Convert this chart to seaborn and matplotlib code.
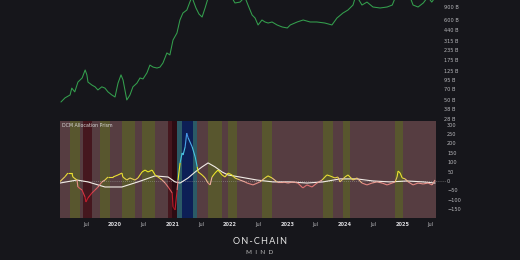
import numpy as np
import pandas as pd
import matplotlib
matplotlib.use("Agg")
import matplotlib.pyplot as plt
import matplotlib.dates as mdates
from matplotlib.collections import LineCollection
from matplotlib.colors import LinearSegmentedColormap, Normalize
import matplotlib.transforms as mtransforms
import seaborn as sns

# ---------------- data ----------------
price_dates = [
    "2019-01-22", "2019-02-17", "2019-03-21", "2019-04-01", "2019-04-20", "2019-05-10",
    "2019-06-06", "2019-06-25", "2019-07-06", "2019-07-13", "2019-08-08", "2019-08-27",
    "2019-09-14", "2019-10-09", "2019-10-29", "2019-11-17", "2019-12-12", "2020-01-01",
    "2020-01-20", "2020-02-08", "2020-02-21", "2020-03-04", "2020-03-16", "2020-04-05",
    "2020-04-24", "2020-05-19", "2020-06-08", "2020-06-27", "2020-07-22", "2020-08-10",
    "2020-08-30", "2020-09-24", "2020-10-13", "2020-11-01", "2020-11-26", "2020-12-15",
    "2021-01-04", "2021-01-29", "2021-02-17", "2021-03-08", "2021-04-02", "2021-04-21",
    "2021-05-04", "2021-05-30", "2021-06-18", "2021-07-08", "2021-07-27", "2021-08-15",
    "2021-09-27", "2021-11-10", "2021-12-20", "2022-01-15", "2022-02-02", "2022-03-06",
    "2022-04-06", "2022-04-26", "2022-05-22", "2022-06-10", "2022-06-29", "2022-07-24",
    "2022-08-12", "2022-09-01", "2022-09-26", "2022-10-28", "2022-11-29", "2023-01-01",
    "2023-01-20", "2023-03-05", "2023-04-12", "2023-05-26", "2023-07-08", "2023-08-28",
    "2023-10-12", "2023-11-13", "2023-12-21", "2024-01-22", "2024-02-23", "2024-03-13",
    "2024-04-20", "2024-05-22", "2024-06-29", "2024-08-13", "2024-09-27", "2024-10-30",
    "2024-11-24", "2025-01-08", "2025-02-20", "2025-03-11", "2025-04-12", "2025-05-15",
    "2025-06-13", "2025-07-08", "2025-07-27",
]
price_values = [
    47.5, 54, 59, 73, 65, 88,
    100, 128, 110, 88, 80, 76,
    69, 76, 73, 65, 59, 55.5,
    85, 110, 94, 69, 50.6, 59,
    76, 85, 100, 97, 117, 149,
    140, 136, 140, 159, 217, 204,
    324, 402, 602, 747, 820, 1048,
    1227, 873, 725, 660, 873, 1189,
    1780, 2420, 1620, 1189, 1019, 1048,
    1227, 957, 703, 640, 516, 602,
    566, 548, 566, 516, 485, 470,
    516, 566, 602, 566, 566, 548,
    516, 640, 747, 820, 957, 1305,
    957, 1048, 900, 873, 900, 957,
    1305, 1780, 1227, 957, 900, 1019,
    1227, 1048, 1189,
]

osc_dates = [
    "2019-01-16", "2019-02-17", "2019-03-07", "2019-04-02", "2019-04-08", "2019-05-04",
    "2019-05-10", "2019-06-05", "2019-06-24", "2019-06-30", "2019-07-13", "2019-08-07",
    "2019-08-27", "2019-09-15", "2019-10-10", "2019-10-29", "2019-11-17", "2019-12-19",
    "2020-01-20", "2020-02-14", "2020-02-20", "2020-03-16", "2020-04-05", "2020-05-07",
    "2020-05-26", "2020-06-21", "2020-07-10", "2020-07-29", "2020-08-24", "2020-09-12",
    "2020-10-01", "2020-10-27", "2020-11-15", "2020-12-04", "2020-12-30", "2021-01-04",
    "2021-01-17", "2021-01-30", "2021-02-05", "2021-02-18", "2021-03-03", "2021-03-09",
    "2021-03-22", "2021-04-01", "2021-04-10", "2021-05-06", "2021-05-25", "2021-06-07",
    "2021-06-13", "2021-07-08", "2021-07-27", "2021-08-15", "2021-08-28", "2021-09-09",
    "2021-09-28", "2021-10-17", "2021-11-12", "2021-12-01", "2021-12-20", "2022-01-14",
    "2022-02-02", "2022-03-06", "2022-04-07", "2022-04-20", "2022-05-28", "2022-07-11",
    "2022-08-12", "2022-08-31", "2022-09-26", "2022-10-28", "2022-12-05", "2023-01-05",
    "2023-02-06", "2023-03-09", "2023-04-10", "2023-05-06", "2023-06-07", "2023-07-09",
    "2023-08-10", "2023-09-10", "2023-09-29", "2023-10-31", "2023-11-19", "2023-12-02",
    "2024-01-03", "2024-01-22", "2024-02-23", "2024-03-19", "2024-04-20", "2024-05-22",
    "2024-06-23", "2024-07-25", "2024-08-26", "2024-09-27", "2024-10-29", "2024-11-17",
    "2024-11-29", "2024-12-06", "2024-12-19", "2025-01-01", "2025-01-20", "2025-02-08",
    "2025-03-11", "2025-04-12", "2025-05-14", "2025-06-15", "2025-07-10", "2025-07-29",
]
osc_values = [
    -3, 23, 42, 42, 21, 5,
    -32, -48, -85, -112, -90, -64,
    -48, -32, -5, 5, 21, 21,
    32, 42, 21, 5, 16, 5,
    16, 48, 58, 48, 58, 32,
    21, 5, -11, -32, -64, -138,
    -154, -48, 5, 96, 149, 138,
    181, 255, 230, 181, 128, 75,
    48, 32, 16, -11, -21, 21,
    42, 58, 32, 21, 42, 32,
    16, 5, -5, -11, -21, -5,
    16, 27, 16, -5, -5, -11,
    -5, -11, -37, -21, -32, -11,
    5, 32, 27, 16, 21, -5,
    21, 32, 5, 16, -11, -21,
    -11, -5, -11, -21, -11, -5,
    21, 53, 42, 16, 11, -5,
    -21, -11, -16, -11, -21, 5,
]

ma_dates = [
    "2019-01-16", "2019-05-04", "2019-07-13", "2019-10-29", "2020-02-14", "2020-05-26",
    "2020-09-12", "2020-12-04", "2021-01-17", "2021-02-18", "2021-04-10", "2021-05-25",
    "2021-07-08", "2021-08-15", "2021-09-28", "2021-11-12", "2021-12-20", "2022-03-06",
    "2022-06-22", "2022-10-02", "2023-01-18", "2023-05-06", "2023-08-16", "2023-12-02",
    "2024-03-19", "2024-06-29", "2024-10-16", "2025-02-01", "2025-05-14", "2025-07-29",
]
ma_values = [
    -11, 5, -5, -32, -32, -5,
    27, 21, -5, -11, 16, 48,
    75, 96, 75, 48, 32, 21,
    5, -5, -5, -11, -5, 11,
    11, 0, -5, 0, -5, -11,
]

band_starts = [
    "2019-01-16", "2019-03-20", "2019-05-23", "2019-06-11", "2019-08-07", "2019-09-27",
    "2019-11-30", "2020-02-14", "2020-05-07", "2020-06-21", "2020-09-12", "2020-12-04",
    "2020-12-30", "2021-01-30", "2021-03-03", "2021-05-12", "2021-06-07", "2021-08-15",
    "2021-11-12", "2021-12-20", "2022-02-15", "2022-07-24", "2022-09-26", "2023-08-16",
    "2023-10-19", "2023-12-21", "2024-02-04", "2024-11-17", "2025-01-07",
]
band_states = [
    "mauve", "olive", "mauve", "maroon", "mauve", "olive",
    "mauve", "olive", "mauve", "olive", "mauve", "maroon",
    "darkmaroon", "teal", "navy", "teal", "mauve", "olive",
    "mauve", "olive", "mauve", "olive", "mauve", "olive",
    "mauve", "olive", "mauve", "olive", "mauve",
]
band_end = "2025-08-04"

price_ticks = [900, 600, 440, 315, 235, 175, 125, 95, 70, 50, 38, 28]
osc_ticks = [300, 250, 200, 150, 100, 50, 0, -50, -100, -150]
x_tick_dates = ["2019-07-01", "2020-01-01", "2020-07-01", "2021-01-01", "2021-07-01",
                "2022-01-01", "2022-07-01", "2023-01-01", "2023-07-01", "2024-01-01",
                "2024-07-01", "2025-01-01", "2025-07-01"]
x_tick_labels = ["Jul", "2020", "Jul", "2021", "Jul", "2022", "Jul", "2023", "Jul",
                 "2024", "Jul", "2025", "Jul"]

# ---------------- style ----------------
BG = "#16161b"
TXT = "#b8b8bc"
band_colors = {
    "mauve": "#563d41", "olive": "#58562e", "maroon": "#45171e",
    "darkmaroon": "#2c0c13", "teal": "#2b5a66", "navy": "#0d1f56",
}

sns.set_theme(style="dark")
plt.rcParams["font.family"] = ["DejaVu Sans"]
plt.rcParams["axes.facecolor"] = BG
plt.rcParams["figure.facecolor"] = BG

fig = plt.figure(figsize=(5.2, 2.6), dpi=100)
L, W = 60 / 520, 376 / 520
ax1 = fig.add_axes([L, 1 - 120 / 260, W, 120 / 260])
ax2 = fig.add_axes([L, 1 - 218 / 260, W, 97 / 260])

xmin, xmax = pd.Timestamp("2019-01-16"), pd.Timestamp("2025-08-04")

# ---- top: price ----
price_df = pd.DataFrame({"date": pd.to_datetime(price_dates), "value": price_values})
sns.lineplot(data=price_df, x="date", y="value", ax=ax1, color="#34a04e", lw=0.75)
ax1.set_yscale("log")
ax1.set_ylim(27.2, 1118)
ax1.set_xlim(xmin, xmax)
ax1.yaxis.tick_right()
ax1.set_yticks(price_ticks)
ax1.set_yticklabels([f"{v} B" for v in price_ticks])
ax1.yaxis.set_minor_locator(matplotlib.ticker.NullLocator())
ax1.tick_params(axis="y", length=0, pad=6, labelsize=3.6, colors=TXT)
ax1.set_xticks([])
ax1.set_xlabel("")
ax1.set_ylabel("")
for s in ax1.spines.values():
    s.set_visible(False)
ax1.grid(False)

# ---- bottom: oscillator ----
starts = pd.to_datetime(band_starts)
ends = list(starts[1:]) + [pd.Timestamp(band_end)]
for s, e, st in zip(starts, ends, band_states):
    ax2.axvspan(s, e, color=band_colors[st], lw=0, zorder=0)

ax2.axhline(0, color="#9a9a9a", lw=0.5, ls=(0, (1, 2)), zorder=1)
trans = mtransforms.blended_transform_factory(ax2.transAxes, ax2.transData)
ax2.plot([1.0, 1.025], [0, 0], transform=trans, color="#9a9a9a", lw=0.5,
         ls=(0, (1, 2)), clip_on=False)

ma_df = pd.DataFrame({"date": pd.to_datetime(ma_dates), "value": ma_values})
sns.lineplot(data=ma_df, x="date", y="value", ax=ax2, color="#f2ece6", lw=0.8, zorder=3)

osc_x = mdates.date2num(pd.to_datetime(osc_dates))
osc_y = np.array(osc_values, dtype=float)
pts = np.column_stack([osc_x, osc_y]).reshape(-1, 1, 2)
segs = np.concatenate([pts[:-1], pts[1:]], axis=1)
stops = [(-160, "#9a0a18"), (-80, "#d02232"), (-25, "#e07474"), (0, "#eeb0a0"),
         (14, "#e6d83a"), (60, "#f0ee22"), (85, "#3cc6d6"), (180, "#52c2ea"), (260, "#3f7ee6")]
lo, hi = stops[0][0], stops[-1][0]
cmap = LinearSegmentedColormap.from_list(
    "prism", [((v - lo) / (hi - lo), c) for v, c in stops])
lc = LineCollection(segs, cmap=cmap, norm=Normalize(lo, hi), lw=0.8, zorder=4)
lc.set_array((osc_y[:-1] + osc_y[1:]) / 2)
ax2.add_collection(lc)

ax2.set_xlim(xmin, xmax)
ax2.set_ylim(-197, 319)
ax2.yaxis.tick_right()
ax2.set_yticks(osc_ticks)
ax2.set_yticklabels([str(v).replace("-", "\u2212") for v in osc_ticks])
ax2.tick_params(axis="y", length=0, pad=8, labelsize=3.6, colors=TXT)
ax2.set_xticks(pd.to_datetime(x_tick_dates))
ax2.set_xticklabels(x_tick_labels)
ax2.tick_params(axis="x", length=0, pad=3, labelsize=3.6, colors=TXT)
for lab in ax2.get_xticklabels():
    if lab.get_text() != "Jul":
        lab.set_fontweight("bold")
        lab.set_color("#d8d8dc")
ax2.set_xlabel("")
ax2.set_ylabel("")
for s in ax2.spines.values():
    s.set_visible(False)
ax2.grid(False)
ax2.text(0.006, 0.975, "DCM Allocation Prism", transform=ax2.transAxes,
         ha="left", va="top", fontsize=3.4, color="#d8d8d8")

# ---- watermark ----
fig.text(0.5, 1 - 241 / 260, "O N - C H A I N".replace(" ", "\u2009"), ha="center",
         va="center", fontsize=6.6, color="#e6e6e6", family="Lato")
fig.text(0.5, 1 - 252 / 260, "M  I  N  D", ha="center", va="center",
         fontsize=4.6, color="#bdbdbd", family="Lato")

fig.savefig("out.png", dpi=100, facecolor=BG)
